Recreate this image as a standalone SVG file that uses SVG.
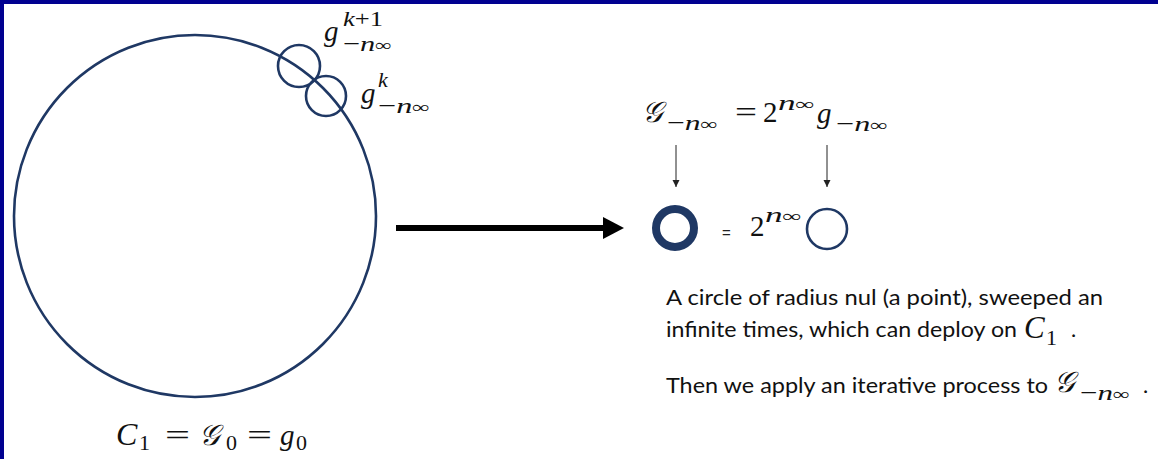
<svg xmlns="http://www.w3.org/2000/svg" width="1158" height="459" viewBox="0 0 1158 459">
<style>
.m{font-family:"Liberation Serif","DejaVu Serif",serif;fill:#111}
.i{font-style:italic}
.big{font-size:29px}
.sm{font-size:22px}
.inf{font-size:17px}
.txt{font-family:Lato,"Open Sans",sans-serif;font-size:22px;fill:#111}
.ring{fill:none;stroke:#1F3864}
</style>
<defs>
<marker id="ah" viewBox="0 0 10 10" refX="10" refY="5" markerWidth="7" markerHeight="9" markerUnits="userSpaceOnUse" orient="auto"><path d="M0,0 L10,5 L0,10 z" fill="#222"/></marker>
</defs>
<rect x="0" y="0" width="1158" height="459" fill="#fff"/>
<rect x="0" y="0" width="1158" height="4" fill="#000090"/>
<rect x="0" y="0" width="4" height="459" fill="#000090"/>

<g id="bigCircle">
<circle class="ring" cx="195" cy="216" r="181" stroke-width="2.6"/>
</g>
<g id="gk1">
<circle class="ring" cx="299" cy="66" r="21" stroke-width="2.6"/>
<text class="m i big" x="324" y="41">g</text>
<text class="m sm" x="343" y="26" textLength="40" lengthAdjust="spacingAndGlyphs"><tspan class="i">k</tspan>+1</text>
<text class="m sm" x="343" y="51" textLength="49" lengthAdjust="spacingAndGlyphs">−<tspan class="i">n</tspan><tspan class="inf">∞</tspan></text>
</g>
<g id="gk">
<circle class="ring" cx="326" cy="96" r="20" stroke-width="2.6"/>
<text class="m i big" x="361" y="103">g</text>
<text class="m i sm" x="378" y="87">k</text>
<text class="m sm" x="378" y="113" textLength="52" lengthAdjust="spacingAndGlyphs">−<tspan class="i">n</tspan><tspan class="inf">∞</tspan></text>
</g>
<g id="c1label">
<text class="m i" font-size="32" x="116" y="445">C</text>
<text class="m sm" x="139" y="450">1</text>
<text class="m big" x="165" y="445" textLength="25" lengthAdjust="spacingAndGlyphs">=</text>
<text class="m i big" x="199" y="445">𝒢</text>
<text class="m sm" x="226" y="450">0</text>
<text class="m big" x="247" y="445" textLength="25" lengthAdjust="spacingAndGlyphs">=</text>
<text class="m i big" x="280" y="445">g</text>
<text class="m sm" x="296" y="450">0</text>
</g>

<g id="formula">
<text class="m i big" x="642" y="122">𝒢</text>
<text class="m sm" x="667" y="130" textLength="51" lengthAdjust="spacingAndGlyphs">−<tspan class="i">n</tspan><tspan class="inf">∞</tspan></text>
<text class="m big" x="735" y="122" textLength="22" lengthAdjust="spacingAndGlyphs">=</text>
<text class="m big" x="763" y="122">2</text>
<text class="m sm" x="778" y="110" textLength="37" lengthAdjust="spacingAndGlyphs"><tspan class="i">n</tspan><tspan class="inf">∞</tspan></text>
<text class="m i big" x="817" y="123">g</text>
<text class="m sm" x="836" y="131" textLength="52" lengthAdjust="spacingAndGlyphs">−<tspan class="i">n</tspan><tspan class="inf">∞</tspan></text>
</g>

<g id="thickRing">
<circle class="ring" cx="675" cy="228" r="19" stroke-width="8"/>
</g>
<g id="eq2">
<text font-family="Liberation Sans,sans-serif" font-size="15" x="722" y="238" fill="#222">=</text>
<text class="m big" x="750" y="236">2</text>
<text class="m sm" x="765" y="222" textLength="37" lengthAdjust="spacingAndGlyphs"><tspan class="i">n</tspan><tspan class="inf">∞</tspan></text>
</g>
<g id="thinRing">
<circle class="ring" cx="827" cy="229" r="20" stroke-width="2.6"/>
</g>

<g id="connectors">
<line x1="396" y1="228" x2="606" y2="228" stroke="#000" stroke-width="6"/>
<path d="M603,217 L624,228 L603,239 z" fill="#000"/>
<line x1="676" y1="145" x2="676" y2="187" stroke="#222" stroke-width="1" marker-end="url(#ah)"/>
<line x1="827" y1="145" x2="827" y2="187" stroke="#222" stroke-width="1" marker-end="url(#ah)"/>
</g>

<g id="description">
<text class="txt" x="666" y="305" textLength="437" lengthAdjust="spacingAndGlyphs">A circle of radius nul (a point), sweeped an</text>
<text class="txt" x="666" y="337" textLength="351" lengthAdjust="spacingAndGlyphs">infinite times, which can deploy on</text>
<text class="m i" font-size="31" x="1024" y="338">C</text>
<text class="m sm" x="1046" y="345">1</text>
<text class="txt" x="1071" y="337">.</text>
<text class="txt" x="666" y="393" textLength="382" lengthAdjust="spacingAndGlyphs">Then we apply an iterative process to</text>
<text class="m i big" x="1054" y="392">𝒢</text>
<text class="m sm" x="1080" y="400" textLength="50" lengthAdjust="spacingAndGlyphs">−<tspan class="i">n</tspan><tspan class="inf">∞</tspan></text>
<text class="txt" x="1143" y="393">.</text>
</g>
</svg>
